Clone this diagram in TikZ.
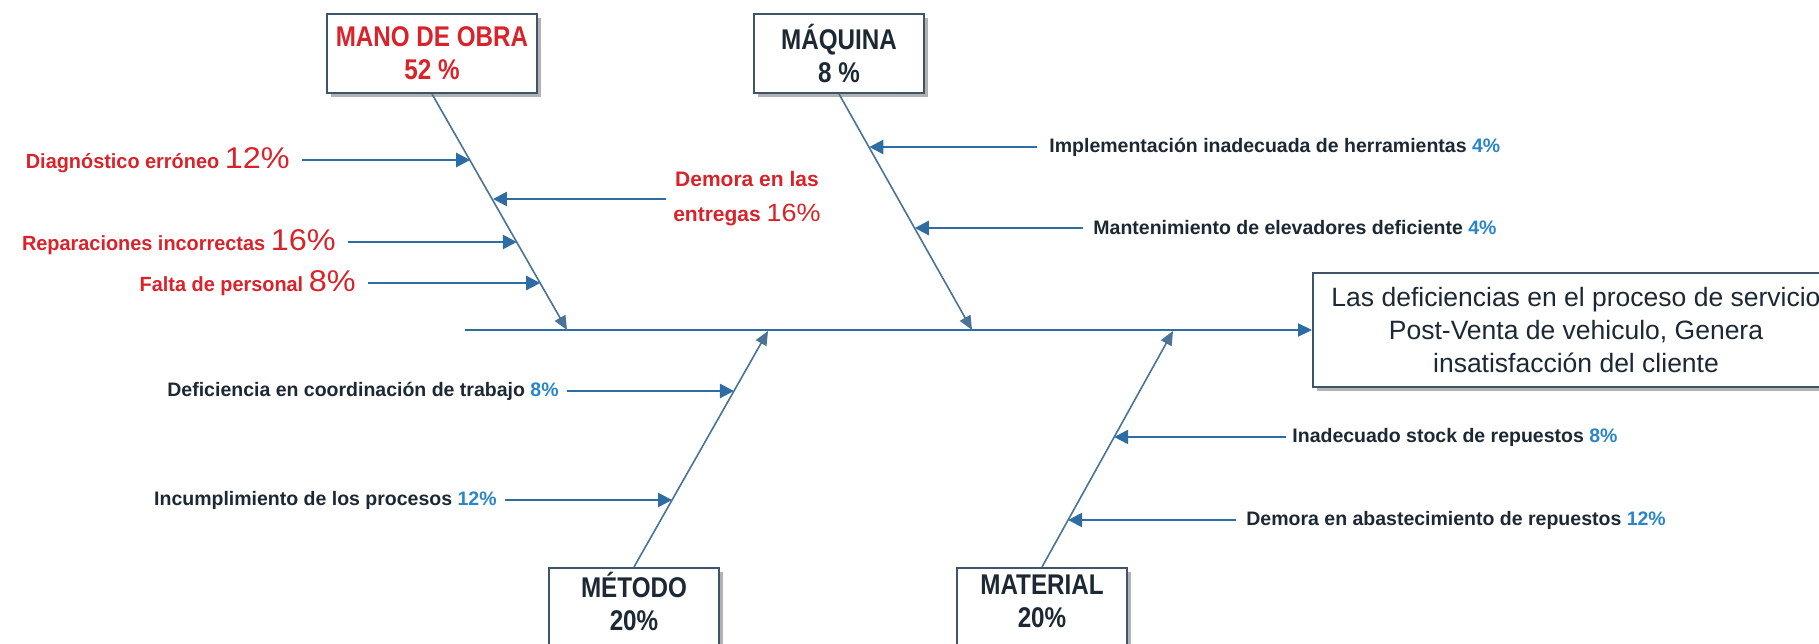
\documentclass[tikz,border=0pt]{standalone}
\usepackage{fontspec}
\setmainfont{Liberation Sans}
\newfontfamily\boxfont[FakeStretch=0.85]{Liberation Sans}
\newfontfamily\redfont[FakeStretch=0.97]{Liberation Sans}
\newfontfamily\pctfont[FakeStretch=1.08]{Liberation Sans}
\usetikzlibrary{arrows.meta,shadows,calc}
\definecolor{frame}{HTML}{3E5468}
\definecolor{ink}{HTML}{1C2833}
\definecolor{bone}{HTML}{4A7396}
\definecolor{arrowblue}{HTML}{2E6DA4}
\definecolor{pctblue}{HTML}{2A86C8}
\definecolor{redtxt}{HTML}{D9232B}
\newcommand{\bp}[1]{{\color{pctblue}#1}}
\newcommand{\rp}[1]{{\pctfont\mdseries\fontsize{15}{15}\selectfont #1}}
\begin{document}
\begin{tikzpicture}[x=0.5pt,y=-0.5pt,
  catbox/.style={draw=frame, line width=1pt, fill=white,
    drop shadow={shadow xshift=2pt,shadow yshift=-2pt,opacity=0.3,fill=black},
    inner sep=0pt, align=center, text=ink,
    font=\boxfont\bfseries\fontsize{14.25}{16.5}\selectfont},
  effbox/.style={draw=frame, line width=1pt, fill=white,
    drop shadow={shadow xshift=2pt,shadow yshift=-2pt,opacity=0.3,fill=black},
    inner sep=0pt, align=center, text=ink,
    font=\fontsize{13.25}{16.5}\selectfont},
  lab/.style={inner xsep=4pt, inner ysep=1pt, text=ink,
    font=\bfseries\fontsize{9.75}{11}\selectfont},
  redlab/.style={inner xsep=6pt, inner ysep=1pt, text=redtxt,
    font=\redfont\bfseries\fontsize{10.25}{12}\selectfont},
  bonel/.style={draw=bone, line width=0.8pt, -{Triangle[length=7pt,width=6pt]}},
  spinel/.style={draw=arrowblue, line width=1.1pt, -{Triangle[length=7pt,width=6.5pt]}},
  sub/.style={draw=arrowblue, line width=1.2pt, -{Triangle[length=7pt,width=7pt]}}
]
\fill[white] (0,0) rectangle (1819,643);
\useasboundingbox (0,0) rectangle (1819,643);
\clip (0,0) rectangle (1819,643);

% category boxes
\node[catbox, minimum width=105pt, minimum height=39.5pt, text=redtxt] (mano) at (432,53.5) {MANO DE OBRA\\52 \%};
\node[catbox, minimum width=85pt, minimum height=39.5pt] (maquina) at (839,53.5) {MÁQUINA\\8 \%};
\node[catbox, minimum width=85pt, minimum height=50pt, anchor=north] (metodo) at (634,567) {MÉTODO\\20\%\\\mbox{}};
\node[catbox, minimum width=85pt, minimum height=50pt, anchor=north] (material) at (1042,567) {MATERIAL\\20\%\\\mbox{}};

% effect
\node[effbox, minimum width=263pt, minimum height=57pt, anchor=west] (effect) at (1312,330)
  {Las deficiencias en el proceso de servicio\\Post-Venta de vehiculo, Genera\\insatisfacción del cliente};

% spine
\coordinate (spineL) at (465,330);
\draw[spinel] (spineL) -- (effect);

% bone tips
\coordinate (mtip) at (567,330);
\coordinate (qtip) at (972,330);
\coordinate (etip) at (768,331);
\coordinate (ltip) at (1173,331);
\draw[bonel] (mano.south) -- (mtip);
\draw[bonel] (maquina.south) -- (qtip);
\draw[bonel] (metodo.north) -- (etip);
\draw[bonel] (material.north) -- (ltip);

% points on bones
\coordinate (m1) at ($(mano.south)!0.2827!(mtip)$);
\coordinate (m2) at ($(mano.south)!0.4515!(mtip)$);
\coordinate (m3) at ($(mano.south)!0.6287!(mtip)$);
\coordinate (m4) at ($(mano.south)!0.8017!(mtip)$);
\coordinate (q1) at ($(maquina.south)!0.2278!(qtip)$);
\coordinate (q2) at ($(maquina.south)!0.5696!(qtip)$);
\coordinate (e1) at ($(metodo.north)!0.7458!(etip)$);
\coordinate (e2) at ($(metodo.north)!0.2839!(etip)$);
\coordinate (l1) at ($(material.north)!0.5508!(ltip)$);
\coordinate (l2) at ($(material.north)!0.1992!(ltip)$);

% mano de obra causes
\node[redlab, anchor=east] (d1) at (302,160) {Diagnóstico erróneo \rp{12\%}};
\node[redlab, anchor=east] (d3) at (348,242) {Reparaciones incorrectas \rp{16\%}};
\node[redlab, anchor=east] (d4) at (368,283) {Falta de personal \rp{8\%}};
\node[text=redtxt, align=center, inner xsep=3.5pt, inner ysep=1pt,
  font=\bfseries\fontsize{10.5}{17.5}\selectfont] (d2) at (747,199)
  {Demora en las\\entregas {\pctfont\mdseries\fontsize{12.5}{12.5}\selectfont 16\%}};
\draw[sub] (d1) -- (d1 -| m1);
\draw[sub] (d3) -- (d3 -| m3);
\draw[sub] (d4) -- (d4 -| m4);
\draw[sub] (d2) -- (d2 -| m2);

% maquina causes
\node[lab, anchor=west, inner xsep=6pt] (c1) at (1037,147) {Implementación inadecuada de herramientas \bp{4\%}};
\node[lab, anchor=west, inner xsep=5pt] (c2) at (1083,228) {Mantenimiento de elevadores deficiente \bp{4\%}};
\draw[sub] (c1) -- (c1 -| q1);
\draw[sub] (c2) -- (c2 -| q2);

% metodo causes
\node[lab, anchor=east] (t1) at (567,391) {Deficiencia en coordinación de trabajo \bp{8\%}};
\node[lab, anchor=east] (t2) at (505,500) {Incumplimiento de los procesos \bp{12\%}};
\draw[sub] (t1) -- (t1 -| e1);
\draw[sub] (t2) -- (t2 -| e2);

% material causes
\node[lab, anchor=west, inner xsep=3pt] (r1) at (1286,437) {Inadecuado stock de repuestos \bp{8\%}};
\node[lab, anchor=west, inner xsep=5pt] (r2) at (1236,520) {Demora en abastecimiento de repuestos \bp{12\%}};
\draw[sub] (r1) -- (r1 -| l1);
\draw[sub] (r2) -- (r2 -| l2);
\end{tikzpicture}
\end{document}
